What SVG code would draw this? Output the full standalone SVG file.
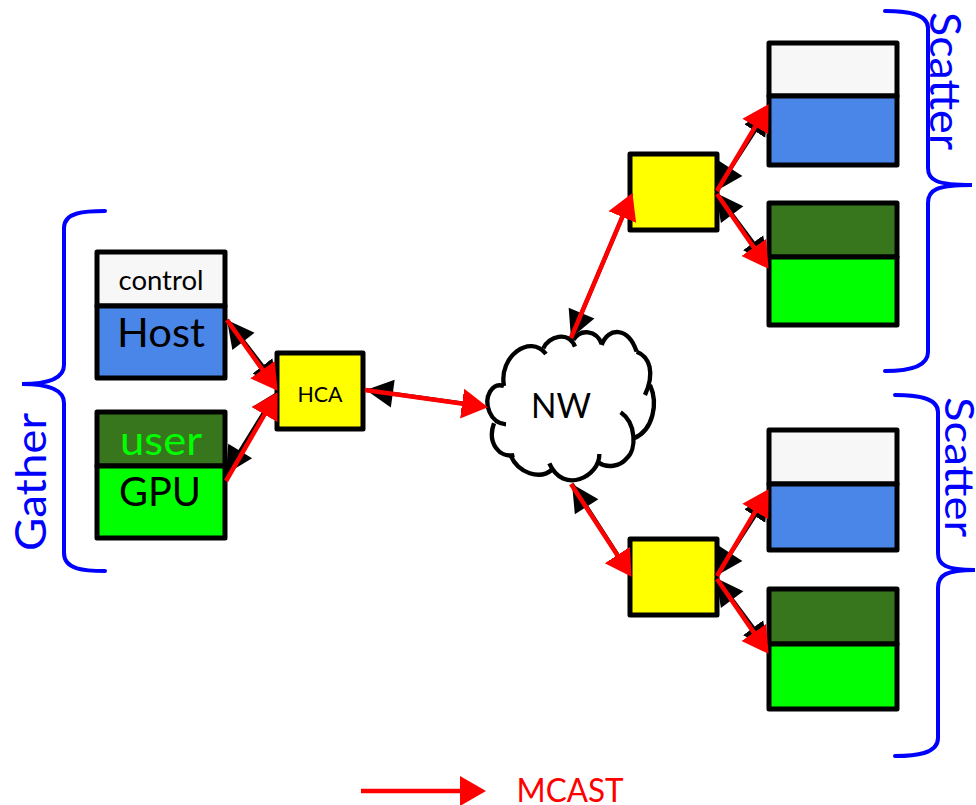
<svg xmlns="http://www.w3.org/2000/svg" width="976" height="805" viewBox="0 0 976 805">
<style>
text{font-family:Lato,"Open Sans","Liberation Sans",sans-serif;fill:#000;text-anchor:middle}
.b{stroke:#000;stroke-width:5;stroke-linejoin:round}
.w{fill:#f7f7f7}.h{fill:#4a86e8}.d{fill:#38761d}.g{fill:#0f0}.y{fill:#ff0}
.br{fill:none;stroke:#00f;stroke-width:4;stroke-linecap:round}
.k{stroke:#000;stroke-width:4;fill:none;marker-start:url(#ks);marker-end:url(#ke)}
.r{stroke:#f00;stroke-width:4.500;fill:none;marker-end:url(#re)}
</style>
<defs>
<marker id="ks" markerUnits="userSpaceOnUse" markerWidth="28" markerHeight="30" refX="0" refY="15" orient="auto"><polygon points="0,15 27,1 27,29" fill="#000"/></marker>
<marker id="ke" markerUnits="userSpaceOnUse" markerWidth="26" markerHeight="26" refX="19" refY="13" orient="auto"><polygon points="0,0.500 25,13 0,25.500" fill="#000"/></marker>
<marker id="re" markerUnits="userSpaceOnUse" markerWidth="27" markerHeight="32" refX="19" refY="16" orient="auto"><polygon points="0,1 26,16 0,31" fill="#f00"/></marker>
</defs>

<g id="host">
<rect class="b w" x="97" y="252" width="128" height="54"/>
<rect class="b h" x="97" y="306" width="128" height="72"/>
<text x="161" y="290" font-size="26" textLength="85" lengthAdjust="spacingAndGlyphs">control</text>
<text x="161" y="347" font-size="40" textLength="88" lengthAdjust="spacingAndGlyphs">Host</text>
</g>
<g id="gpu">
<rect class="b d" x="97" y="412" width="128" height="54"/>
<rect class="b g" x="97" y="466" width="128" height="72"/>
<text x="161" y="455" font-size="40" textLength="82" lengthAdjust="spacingAndGlyphs" style="fill:#0f0">user</text>
<text x="160" y="506" font-size="40" textLength="82" lengthAdjust="spacingAndGlyphs">GPU</text>
</g>
<g id="hca">
<rect class="b y" x="277" y="353" width="86" height="76"/>
<text x="320" y="402" font-size="21" textLength="45" lengthAdjust="spacingAndGlyphs">HCA</text>
</g>
<g id="nw">
<path fill="#fff" d="M502 386L530 345L575 335L620 340L650 380L655 410L630 460L590 470L570 485L530 470L500 450L490 410Z"/>
<g transform="translate(480 310) scale(.3333)" fill="none" stroke="#000" stroke-width="13">
<path d="M72 228C55 140 150 70 198 132"/>
<path d="M190 115C205 80 265 60 285 110"/>
<path d="M280 90C300 55 350 60 365 102"/>
<path d="M365 105C385 50 445 50 470 125"/>
<path d="M470 125C510 140 525 190 495 255"/>
<path d="M510 225C535 280 520 360 462 385"/>
<path d="M422 307C470 340 470 420 440 445C420 470 380 475 357 458"/>
<path d="M358 432C360 500 250 555 208 460"/>
<path d="M215 480C180 510 115 490 92 437"/>
<path d="M103 435C60 445 20 400 42 340"/>
<path d="M78 343C30 340 10 280 30 245C40 228 55 222 72 228"/>
</g>
<text x="561" y="418" font-size="35" textLength="60" lengthAdjust="spacingAndGlyphs">NW</text>
</g>
<g id="switch-top"><rect class="b y" x="630" y="154" width="87" height="76"/></g>
<g id="switch-bottom"><rect class="b y" x="630" y="539" width="87" height="76"/></g>
<g id="host-a">
<rect class="b w" x="769" y="43" width="128" height="53"/>
<rect class="b h" x="769" y="96" width="128" height="69"/>
</g>
<g id="gpu-a">
<rect class="b d" x="769" y="203" width="128" height="54"/>
<rect class="b g" x="769" y="257" width="128" height="68"/>
</g>
<g id="host-b">
<rect class="b w" x="769" y="430" width="128" height="54"/>
<rect class="b h" x="769" y="484" width="128" height="66"/>
</g>
<g id="gpu-b">
<rect class="b d" x="769" y="589" width="128" height="55"/>
<rect class="b g" x="769" y="644" width="128" height="65"/>
</g>

<g id="connectors">
<path class="k" d="M227 320L274 381"/>
<path class="k" d="M226 474L273.500 397"/>
<path class="k" d="M366 390L481 406"/>
<path class="k" d="M571 338L630 199"/>
<path class="k" d="M572 484L628 571"/>
<path class="k" d="M716 191L765 115"/>
<path class="k" d="M716 193L764.500 258"/>
<path class="k" d="M716 576L765 500"/>
<path class="k" d="M716 578L764.500 643"/>
<path class="r" d="M227 320L273.500 385.100"/>
<path class="r" d="M226 481L274 398.200"/>
<path class="r" d="M365 390L481 406.200"/>
<path class="r" d="M571 338L629.700 199.500"/>
<path class="r" d="M571 484L627.700 571"/>
<path class="r" d="M717 191L765 110.200"/>
<path class="r" d="M717 194L764.600 263.100"/>
<path class="r" d="M717 576L765 495.200"/>
<path class="r" d="M717 579L764.600 648.100"/>
</g>

<g id="gather">
<path class="br" d="M105 211C85 211 64 212 64 228V365C64 378 50 384 22 384C50 384 64 390 64 403V553C64 570 85 571 105 571"/>
<text transform="translate(46 482) rotate(-90)" font-size="42" textLength="138" lengthAdjust="spacingAndGlyphs" style="fill:#00f">Gather</text>
</g>
<g id="scatter-top">
<path class="br" d="M885 11C905 11 928 13 928 28V168C928 180 936 185 972 185C936 185 928 190 928 203V352C928 368 905 371 885 371"/>
<text transform="translate(930 81) rotate(90)" font-size="42" textLength="138" lengthAdjust="spacingAndGlyphs" style="fill:#00f">Scatter</text>
</g>
<g id="scatter-bottom">
<path class="br" d="M895 395C915 395 938 397 938 412V553C938 565 946 570 975 570C946 570 938 575 938 588V738C938 754 915 756 895 756"/>
<text transform="translate(945 467) rotate(90)" font-size="41" textLength="140" lengthAdjust="spacingAndGlyphs" style="fill:#00f">Scatter</text>
</g>

<g id="legend">
<path class="r" d="M361 791H479"/>
<text x="570" y="802" font-size="33" textLength="107" lengthAdjust="spacingAndGlyphs" style="fill:#f00">MCAST</text>
</g>
</svg>
